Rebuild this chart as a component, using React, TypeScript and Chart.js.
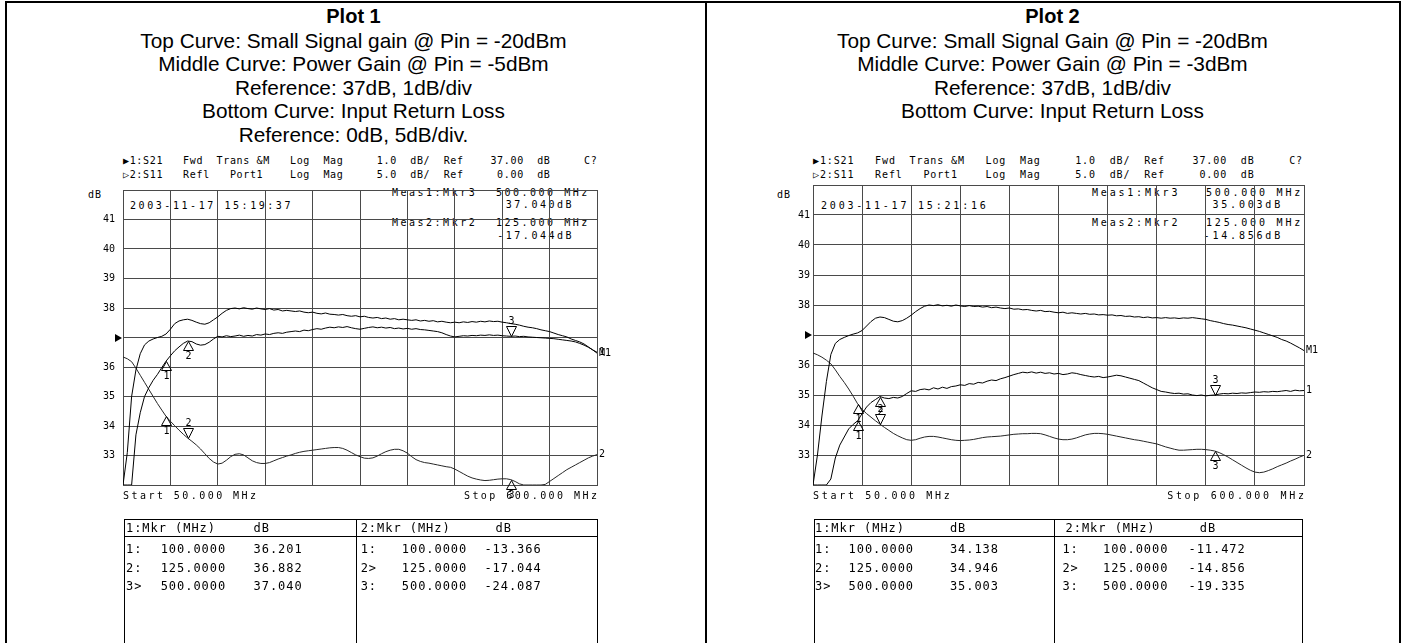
import React, { useEffect, useRef } from "react";
import { Chart, registerables } from "chart.js";

Chart.register(...registerables);

// ---------------- data ----------------
const FREQ_MHZ = [
  50, 55, 60, 65, 70, 75, 80, 85, 90, 95,
  100, 105, 110, 115, 120, 125, 130, 135, 140, 145,
  150, 155, 160, 165, 170, 175, 180, 185, 190, 195,
  200, 205, 210, 215, 220, 225, 230, 235, 240, 245,
  250, 255, 260, 265, 270, 275, 280, 285, 290, 295,
  300, 305, 310, 315, 320, 325, 330, 335, 340, 345,
  350, 355, 360, 365, 370, 375, 380, 385, 390, 395,
  400, 405, 410, 415, 420, 425, 430, 435, 440, 445,
  450, 455, 460, 465, 470, 475, 480, 485, 490, 495,
  500, 505, 510, 515, 520, 525, 530, 535, 540, 545,
  550, 555, 560, 565, 570, 575, 580, 585, 590, 595,
  600,
];

// Plot 1 – memory trace (small signal gain, Pin = -20 dBm), dB
const PLOT1_MEMORY_DB = [
  32.0, 33.1, 35.0, 35.9, 36.45, 36.75, 36.88, 36.95, 37.0, 37.04,
  37.12, 37.28, 37.47, 37.56, 37.6, 37.62, 37.58, 37.52, 37.47, 37.45,
  37.5, 37.6, 37.7, 37.82, 37.92, 37.98, 38.0, 37.97, 38.01, 37.98,
  37.96, 38.0, 37.97, 37.95, 37.98, 37.93, 37.95, 37.9, 37.92, 37.9,
  37.88, 37.9, 37.86, 37.84, 37.86, 37.82, 37.8, 37.83, 37.79, 37.78,
  37.76, 37.78, 37.74, 37.72, 37.74, 37.7, 37.72, 37.68, 37.66, 37.68,
  37.64, 37.66, 37.62, 37.64, 37.6, 37.62, 37.6, 37.58, 37.6, 37.56,
  37.58, 37.55, 37.57, 37.53, 37.55, 37.52, 37.5, 37.52, 37.5, 37.53,
  37.51, 37.54, 37.52, 37.55, 37.53, 37.56, 37.54, 37.55, 37.52, 37.5,
  37.47, 37.45, 37.42, 37.38, 37.35, 37.33, 37.3, 37.26, 37.23, 37.2,
  37.15, 37.1, 37.06, 37.02, 36.95, 36.9, 36.85, 36.78, 36.68, 36.58,
  36.47,
];
// Plot 1 – data trace (power gain, Pin = -5 dBm), dB
const PLOT1_DATA_DB = [
  32.0, 32.0, 32.0, 33.7, 34.45, 35.0, 35.3, 35.55, 35.75, 35.98,
  36.2, 36.38, 36.55, 36.68, 36.8, 36.88, 36.86, 36.78, 36.74, 36.76,
  36.84, 36.95, 37.04, 37.02, 37.06, 37.03, 37.05, 37.08, 37.04, 37.07,
  37.05, 37.1, 37.08, 37.12, 37.1, 37.14, 37.16, 37.14, 37.18, 37.2,
  37.22, 37.2, 37.25, 37.23, 37.27, 37.3, 37.28, 37.32, 37.35, 37.33,
  37.36, 37.34, 37.37, 37.33, 37.3, 37.28, 37.31, 37.34, 37.36, 37.33,
  37.35, 37.32, 37.34, 37.3, 37.32, 37.29, 37.31, 37.28, 37.3, 37.27,
  37.26, 37.24, 37.22, 37.2, 37.16, 37.1, 37.05, 37.02, 37.04, 37.06,
  37.05, 37.07, 37.06, 37.08, 37.07, 37.09, 37.07, 37.08, 37.06, 37.05,
  37.04, 37.05, 37.03, 37.04, 37.02, 37.01, 37.0, 36.99, 36.98, 36.97,
  36.96, 36.94, 36.92, 36.9, 36.88, 36.85, 36.8, 36.74, 36.67, 36.58,
  36.5,
];
// Plot 1 – input return loss S11, dB
const PLOT1_S11_DB = [
  -3.3, -3.6, -4.1, -5.2, -6.4, -7.6, -8.8, -10.0, -11.2, -12.3,
  -13.37, -14.2, -14.95, -15.7, -16.4, -17.04, -17.6, -18.2, -18.9, -19.7,
  -20.5, -21.1, -21.45, -21.3, -20.8, -20.2, -19.8, -19.7, -19.9, -20.4,
  -20.9, -21.2, -21.35, -21.35, -21.2, -20.9, -20.6, -20.35, -20.1, -19.9,
  -19.65, -19.45, -19.3, -19.2, -19.1, -19.0, -18.9, -18.8, -18.7, -18.65,
  -18.65, -18.8, -19.1, -19.5, -19.9, -20.2, -20.45, -20.5, -20.4, -20.1,
  -19.7, -19.35, -19.1, -18.95, -18.95, -19.2, -19.6, -20.2, -20.7, -21.0,
  -21.2, -21.3, -21.45, -21.6, -21.75, -21.9, -22.0, -22.3, -22.7, -23.1,
  -23.5, -23.8, -24.0, -24.15, -24.25, -24.2, -24.1, -24.0, -23.95, -23.95,
  -24.09, -24.4, -24.8, -25.0, -25.0, -25.0, -25.0, -25.0, -24.9, -24.4,
  -23.9, -23.4, -22.9, -22.4, -22.0, -21.6, -21.2, -20.8, -20.4, -20.1,
  -19.85,
];

// Plot 2 – memory trace (small signal gain, Pin = -20 dBm), dB
const PLOT2_MEMORY_DB = [
  32.0, 33.0, 34.3, 35.45, 36.35, 36.72, 36.85, 36.92, 36.98, 37.03,
  37.07, 37.15, 37.3, 37.45, 37.56, 37.6, 37.58, 37.52, 37.46, 37.44,
  37.48, 37.56, 37.66, 37.78, 37.88, 37.96, 38.0, 37.98, 38.01, 37.97,
  37.99, 37.96, 38.0, 37.97, 37.95, 37.98, 37.95, 37.96, 37.93, 37.95,
  37.91, 37.93, 37.9, 37.88, 37.9, 37.86, 37.87, 37.84, 37.85, 37.82,
  37.8, 37.82, 37.78, 37.79, 37.76, 37.74, 37.76, 37.72, 37.74, 37.72,
  37.7, 37.72, 37.69, 37.7, 37.67, 37.68, 37.66, 37.67, 37.64, 37.65,
  37.62, 37.63, 37.6, 37.61, 37.58, 37.6, 37.57, 37.58, 37.56, 37.58,
  37.56, 37.57, 37.55, 37.57, 37.56, 37.58, 37.56, 37.54, 37.52, 37.48,
  37.45, 37.42, 37.38, 37.35, 37.33, 37.3, 37.27, 37.24, 37.2, 37.16,
  37.12, 37.07, 37.02, 36.97, 36.92, 36.85, 36.8, 36.73, 36.65, 36.57,
  36.48,
];
// Plot 2 – data trace (power gain, Pin = -3 dBm), dB
const PLOT2_DATA_DB = [
  32.0, 32.0, 32.0, 32.0, 32.2, 32.9, 33.33, 33.6, 33.87, 34.02,
  34.14, 34.38, 34.6, 34.75, 34.85, 34.95, 34.9, 34.88, 34.92, 34.9,
  34.95, 35.05, 35.14, 35.12, 35.18, 35.2, 35.17, 35.24, 35.2, 35.26,
  35.22, 35.28, 35.3, 35.34, 35.32, 35.38, 35.36, 35.42, 35.4, 35.46,
  35.5, 35.48, 35.54, 35.58, 35.63, 35.68, 35.72, 35.76, 35.74, 35.77,
  35.73, 35.76, 35.72, 35.74, 35.7, 35.72, 35.68, 35.7, 35.74, 35.72,
  35.68, 35.65, 35.62, 35.6, 35.62, 35.58, 35.6, 35.63, 35.66, 35.64,
  35.6, 35.56, 35.52, 35.48, 35.4, 35.32, 35.24, 35.18, 35.12, 35.1,
  35.07, 35.05, 35.06, 35.03, 35.04, 35.0, 34.98, 35.0, 34.97, 34.99,
  35.0, 35.03, 35.05, 35.04, 35.06, 35.05, 35.07, 35.06, 35.08, 35.1,
  35.09, 35.11, 35.1, 35.12, 35.11, 35.13, 35.15, 35.12, 35.16, 35.14,
  35.15,
];
// Plot 2 – input return loss S11, dB
const PLOT2_S11_DB = [
  -3.0, -3.3, -3.7, -4.2, -4.8, -5.8, -6.9, -7.9, -9.0, -10.2,
  -11.47, -12.4, -13.1, -13.7, -14.3, -14.86, -15.4, -15.9, -16.4, -16.8,
  -17.15, -17.45, -17.55, -17.45, -17.2, -17.0, -16.9, -16.9, -17.0, -17.15,
  -17.3, -17.45, -17.55, -17.6, -17.55, -17.5, -17.4, -17.25, -17.1, -17.0,
  -16.95, -16.9, -16.85, -16.75, -16.65, -16.55, -16.5, -16.45, -16.45, -16.4,
  -16.4, -16.45, -16.65, -16.9, -17.15, -17.35, -17.45, -17.45, -17.35, -17.15,
  -16.9, -16.65, -16.5, -16.4, -16.4, -16.45, -16.55, -16.7, -16.85, -17.0,
  -17.15, -17.3, -17.45, -17.55, -17.7, -17.85, -18.0, -18.15, -18.4, -18.65,
  -18.85, -19.05, -19.2, -19.2, -19.15, -19.1, -19.05, -19.05, -19.1, -19.2,
  -19.34, -19.6, -19.95, -20.35, -20.8, -21.25, -21.7, -22.15, -22.55, -22.85,
  -22.95, -22.85, -22.6, -22.3, -21.95, -21.65, -21.35, -21.0, -20.7, -20.35,
  -20.05,
];

// markers
const MARKER_FREQ_MHZ = [100, 125, 500];
const PLOT1_MKR_S21_DB = [36.201, 36.882, 37.04];
const PLOT1_MKR_S11_DB = [-13.366, -17.044, -24.087];
const PLOT2_MKR_S21_DB = [34.138, 34.946, 35.003];
const PLOT2_MKR_S11_DB = [-11.472, -14.856, -19.335];
const ACTIVE_MKR_TRACE1 = 2; // marker 3
const ACTIVE_MKR_TRACE2 = 1; // marker 2

// scales
const START_MHZ = 50;
const STOP_MHZ = 600;
const X_STEP_MHZ = 55;
const S21_MIN_DB = 32;
const S21_MAX_DB = 42;
const S21_REF_DB = 37;
const S21_PER_DIV = 1;
const S11_MIN_DB = -25;
const S11_MAX_DB = 25;
const S11_REF_DB = 0;
const S11_PER_DIV = 5;
const Y_TICK_LABELS = [33, 34, 35, 36, 38, 39, 40, 41];

const PLOT1_NOTES = [
  "Top Curve: Small Signal gain @ Pin = -20dBm",
  "Middle Curve: Power Gain @ Pin = -5dBm",
  "Reference: 37dB, 1dB/div",
  "Bottom Curve: Input Return Loss",
  "Reference: 0dB, 5dB/div.",
];
const PLOT2_NOTES = [
  "Top Curve: Small Signal Gain @ Pin = -20dBm",
  "Middle Curve: Power Gain @ Pin = -3dBm",
  "Reference: 37dB, 1dB/div",
  "Bottom Curve: Input Return Loss",
];
const PLOT1_TIME = "2003-11-17 15:19:37";
const PLOT2_TIME = "2003-11-17 15:21:16";

// ---------------- layout ----------------
const MONO = '"DejaVu Sans Mono", monospace';
const SANS = '"Liberation Sans", Arial, sans-serif';
const GRID_COLOR = "#4a4a4a";
const CANVAS_TOP = 176;
const CANVAS_H = 330;
const PAD_TOP = 7;
const PAD_BOTTOM = 21;

const fmt = (v: number, d: number) => v.toFixed(d);

const HDR1 =
  "\u25B61:S21   Fwd  Trans &M   Log  Mag     " +
  fmt(S21_PER_DIV, 1) + "  dB/  Ref    " + fmt(S21_REF_DB, 2) + "  dB     C?";
const HDR2 =
  "\u25B72:S11   Refl   Port1    Log  Mag     " +
  fmt(S11_PER_DIV, 1) + "  dB/  Ref     " + fmt(S11_REF_DB, 2) + "  dB";

type Layout = any;

const LAYOUT1: Layout = {
  cellLeft: 7, cellWidth: 693,
  canvasLeft: 60, canvasW: 580, padRight: 43, yTickPad: 8,
  gridLeft: 123, gridRight: 597,
  hdrLs: 0.66, tsX: 130, tsLs: 2.56, dbX: 88,
  measX: 392, measValX: 496, measDbRight: 574, measLs: 2.5,
  edgeLs: 2.45,
  tbl: { left: 124, right: 597, div: 356, c1: 126, c2: 160.7, c3: 253.6, c4: 360.7, c4h: 360.7, c5: 401.8, c6: 484.4, c6h: 495.5 },
};
const LAYOUT2: Layout = {
  cellLeft: 707, cellWidth: 691,
  canvasLeft: 750, canvasW: 590, padRight: 36, yTickPad: 3,
  gridLeft: 813, gridRight: 1304,
  hdrLs: 0.88, tsX: 821, tsLs: 2.8, dbX: 777,
  measX: 1092, measValX: 1206, measDbRight: 1283, measLs: 2.8,
  edgeLs: 2.7,
  tbl: { left: 813.5, right: 1302.4, div: 1054.3, c1: 815, c2: 848.6, c3: 949.9, c4: 1062.4, c4h: 1065.6, c5: 1103, c6: 1188.5, c6h: 1199.8 },
};

type PlotSpec = {
  title: string;
  notes: string[];
  time: string;
  memory: number[];
  data: number[];
  s11: number[];
  mkrS21: number[];
  mkrS11: number[];
  L: Layout;
};

const PLOTS: PlotSpec[] = [
  { title: "Plot 1", notes: PLOT1_NOTES, time: PLOT1_TIME, memory: PLOT1_MEMORY_DB, data: PLOT1_DATA_DB, s11: PLOT1_S11_DB, mkrS21: PLOT1_MKR_S21_DB, mkrS11: PLOT1_MKR_S11_DB, L: LAYOUT1 },
  { title: "Plot 2", notes: PLOT2_NOTES, time: PLOT2_TIME, memory: PLOT2_MEMORY_DB, data: PLOT2_DATA_DB, s11: PLOT2_S11_DB, mkrS21: PLOT2_MKR_S21_DB, mkrS11: PLOT2_MKR_S11_DB, L: LAYOUT2 },
];

function makeOverlay(spec: PlotSpec) {
  return {
    id: "vnaOverlay",
    afterDatasetsDraw(chart: any) {
      const { ctx, chartArea, scales } = chart;
      ctx.save();
      ctx.strokeStyle = "#000";
      ctx.fillStyle = "#000";
      ctx.lineWidth = 1;
      ctx.font = '10px "DejaVu Sans Mono"';
      ctx.textBaseline = "middle";

      // reference level arrow
      const yr = Math.round(scales.y.getPixelForValue(S21_REF_DB));
      ctx.beginPath();
      ctx.moveTo(chartArea.left - 8, yr - 4);
      ctx.lineTo(chartArea.left - 1, yr);
      ctx.lineTo(chartArea.left - 8, yr + 4);
      ctx.closePath();
      ctx.fill();

      // trace end labels
      const last = FREQ_MHZ.length - 1;
      const ends = [
        { text: "M1", axis: "y", v: spec.memory[last] },
        { text: "1", axis: "y", v: spec.data[last] },
        { text: "2", axis: "y2", v: spec.s11[last] },
      ];
      ctx.textAlign = "left";
      ends.forEach((e) => {
        ctx.fillText(e.text, chartArea.right + 2, scales[e.axis].getPixelForValue(e.v));
      });

      // markers
      ctx.textAlign = "center";
      const traces = [
        { axis: "y", values: spec.mkrS21, active: ACTIVE_MKR_TRACE1 },
        { axis: "y2", values: spec.mkrS11, active: ACTIVE_MKR_TRACE2 },
      ];
      traces.forEach((tr) => {
        tr.values.forEach((v, i) => {
          const x = Math.round(scales.x.getPixelForValue(MARKER_FREQ_MHZ[i])) + 0.5;
          const y = Math.round(scales[tr.axis].getPixelForValue(v)) + 0.5;
          ctx.beginPath();
          if (i === tr.active) {
            ctx.moveTo(x, y);
            ctx.lineTo(x - 5, y - 10);
            ctx.lineTo(x + 5, y - 10);
            ctx.closePath();
            ctx.stroke();
            ctx.fillText(String(i + 1), x, y - 15);
          } else {
            ctx.moveTo(x, y);
            ctx.lineTo(x - 5, y + 9);
            ctx.lineTo(x + 5, y + 9);
            ctx.closePath();
            ctx.stroke();
            ctx.fillText(String(i + 1), x, y + 15);
          }
        });
      });
      ctx.restore();
    },
  };
}

function TraceChart({ spec }: { spec: PlotSpec }) {
  const ref = useRef<HTMLCanvasElement>(null);
  const L = spec.L;
  useEffect(() => {
    const pts = (arr: number[]) => FREQ_MHZ.map((f, i) => ({ x: f, y: arr[i] }));
    const line = (label: string, arr: number[], axis: string, color: string) => ({
      label,
      data: pts(arr),
      yAxisID: axis,
      borderColor: color,
      borderWidth: 1,
      pointRadius: 0,
      fill: false,
      tension: 0,
    });
    const chart = new Chart(ref.current as HTMLCanvasElement, {
      type: "line",
      data: {
        datasets: [
          line("Memory S21", spec.memory, "y", "#000"),
          line("S21", spec.data, "y", "#000"),
          line("S11", spec.s11, "y2", "#262626"),
        ],
      } as any,
      options: {
        animation: false,
        responsive: false,
        maintainAspectRatio: false,
        events: [],
        layout: { padding: { left: 0, right: L.padRight, top: PAD_TOP, bottom: PAD_BOTTOM } },
        plugins: { legend: { display: false }, tooltip: { enabled: false }, title: { display: false } },
        scales: {
          x: {
            type: "linear",
            min: START_MHZ,
            max: STOP_MHZ,
            ticks: { display: false, stepSize: X_STEP_MHZ },
            grid: { color: GRID_COLOR, lineWidth: 1, drawTicks: false },
            border: { display: true, color: GRID_COLOR, width: 1 },
            afterFit: (s: any) => { s.height = 0; },
          },
          y: {
            type: "linear",
            min: S21_MIN_DB,
            max: S21_MAX_DB,
            ticks: {
              stepSize: S21_PER_DIV,
              padding: L.yTickPad,
              color: "#000",
              font: { family: "DejaVu Sans Mono", size: 10 },
              callback: (v: any) => (Y_TICK_LABELS.includes(Number(v)) ? String(v) : ""),
            },
            grid: { color: GRID_COLOR, lineWidth: 1, drawTicks: false },
            border: { display: true, color: GRID_COLOR, width: 1 },
            afterFit: (s: any) => { s.width = L.gridLeft - L.canvasLeft; },
          },
          y2: { type: "linear", display: false, min: S11_MIN_DB, max: S11_MAX_DB },
        },
      } as any,
      plugins: [makeOverlay(spec)],
    });
    return () => chart.destroy();
  }, []);
  return (
    <canvas
      ref={ref}
      width={L.canvasW}
      height={CANVAS_H}
      style={{ position: "absolute", left: L.canvasLeft, top: CANVAS_TOP, width: L.canvasW, height: CANVAS_H }}
    />
  );
}

function Txt({ x, y, size = 10, ls = 0, right = false, children }: any) {
  const lh = size + 4;
  return (
    <div
      style={{
        position: "absolute",
        left: x,
        top: y - lh / 2,
        fontFamily: MONO,
        fontSize: size,
        lineHeight: `${lh}px`,
        letterSpacing: ls,
        whiteSpace: "pre",
        color: "#000",
        transform: right ? "translateX(-100%)" : undefined,
      }}
    >
      {children}
    </div>
  );
}

function Line({ x, y, w, h, c = "#000" }: any) {
  return <div style={{ position: "absolute", left: x, top: y, width: w, height: h, background: c }} />;
}

function PlotPanel({ spec }: { spec: PlotSpec }) {
  const L = spec.L;
  const T = L.tbl;
  const rowsY = [549, 567.5, 586];
  const tSize = 12;
  const tLs = 0.95;
  return (
    <>
      <div
        style={{
          position: "absolute",
          left: L.cellLeft,
          top: 5,
          width: L.cellWidth,
          textAlign: "center",
          fontFamily: SANS,
          fontSize: 20.8,
          lineHeight: "23.6px",
          color: "#000",
        }}
      >
        <div style={{ fontWeight: "bold", fontSize: 20 }}>{spec.title}</div>
        {spec.notes.map((n) => (
          <div key={n}>{n}</div>
        ))}
      </div>

      <Txt x={L.gridLeft} y={161} ls={L.hdrLs}>{HDR1}</Txt>
      <Txt x={L.gridLeft} y={175} ls={L.hdrLs}>{HDR2}</Txt>
      <Txt x={L.dbX} y={195} ls={1}>dB</Txt>
      <Txt x={L.tsX} y={206} ls={L.tsLs}>{spec.time}</Txt>

      <Txt x={L.measX} y={193} ls={L.measLs}>Meas1:Mkr3</Txt>
      <Txt x={L.measValX} y={193} ls={L.measLs}>{`${fmt(MARKER_FREQ_MHZ[2], 3)} MHz`}</Txt>
      <Txt x={L.measDbRight} y={205} ls={L.measLs} right>{`${fmt(spec.mkrS21[2], 3)}dB`}</Txt>
      <Txt x={L.measX} y={223} ls={L.measLs}>Meas2:Mkr2</Txt>
      <Txt x={L.measValX} y={223} ls={L.measLs}>{`${fmt(MARKER_FREQ_MHZ[1], 3)} MHz`}</Txt>
      <Txt x={L.measDbRight} y={236} ls={L.measLs} right>{`${fmt(spec.mkrS11[1], 3)}dB`}</Txt>

      <TraceChart spec={spec} />

      <Txt x={L.gridLeft} y={496} ls={L.edgeLs}>{`Start ${fmt(START_MHZ, 3)} MHz`}</Txt>
      <Txt x={L.gridRight + L.edgeLs} y={496} ls={L.edgeLs} right>{`Stop ${fmt(STOP_MHZ, 3)} MHz`}</Txt>

      {/* marker table */}
      <Line x={T.left} y={519} w={T.right - T.left} h={1} />
      <Line x={T.left} y={519} w={1} h={130} />
      <Line x={T.right} y={519} w={1} h={130} />
      <Line x={T.div} y={519} w={1} h={130} />
      <Line x={T.left} y={536} w={T.right - T.left} h={1} />
      <Txt x={T.c1} y={528} size={tSize} ls={tLs}>1:Mkr (MHz)</Txt>
      <Txt x={T.c3} y={528} size={tSize} ls={tLs}>dB</Txt>
      <Txt x={T.c4h} y={528} size={tSize} ls={tLs}>2:Mkr (MHz)</Txt>
      <Txt x={T.c6h} y={528} size={tSize} ls={tLs}>dB</Txt>
      {MARKER_FREQ_MHZ.map((f, i) => (
        <React.Fragment key={f}>
          <Txt x={T.c1} y={rowsY[i]} size={tSize} ls={tLs}>{`${i + 1}${i === ACTIVE_MKR_TRACE1 ? ">" : ":"}`}</Txt>
          <Txt x={T.c2} y={rowsY[i]} size={tSize} ls={tLs}>{fmt(f, 4)}</Txt>
          <Txt x={T.c3} y={rowsY[i]} size={tSize} ls={tLs}>{fmt(spec.mkrS21[i], 3)}</Txt>
          <Txt x={T.c4} y={rowsY[i]} size={tSize} ls={tLs}>{`${i + 1}${i === ACTIVE_MKR_TRACE2 ? ">" : ":"}`}</Txt>
          <Txt x={T.c5} y={rowsY[i]} size={tSize} ls={tLs}>{fmt(f, 4)}</Txt>
          <Txt x={T.c6} y={rowsY[i]} size={tSize} ls={tLs}>{fmt(spec.mkrS11[i], 3)}</Txt>
        </React.Fragment>
      ))}
    </>
  );
}

export default function App() {
  return (
    <div
      style={{
        position: "absolute",
        left: 0,
        top: 0,
        width: 1406,
        height: 643,
        overflow: "hidden",
        background: "#fff",
      }}
    >
      {/* outer cell borders */}
      <Line x={5} y={1} w={1396} h={2} />
      <Line x={5} y={1} w={2} h={642} />
      <Line x={705} y={1} w={2} h={642} />
      <Line x={1399} y={1} w={2} h={642} />
      {PLOTS.map((p) => (
        <PlotPanel key={p.title} spec={p} />
      ))}
    </div>
  );
}
